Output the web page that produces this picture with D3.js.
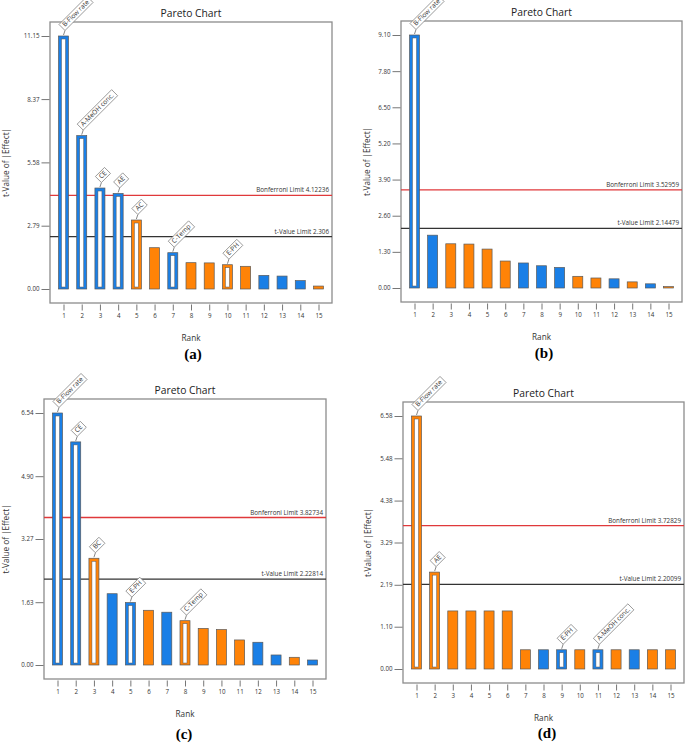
<!DOCTYPE html>
<html><head><meta charset="utf-8">
<script src="https://cdn.jsdelivr.net/npm/d3@7"></script>
<style>body{margin:0;background:#fff} svg{display:block}</style>
</head><body><svg id="c" width="685" height="743"></svg>
<script>
// ---------- data ----------
const ranks = d3.range(1, 16);

const valuesA = [11.15, 6.76, 4.45, 4.21, 3.04, 1.82, 1.60, 1.16, 1.15, 1.07, 1.00, 0.60, 0.57, 0.37, 0.13];
const signsA  = ["+","+","+","+","-","-","+","-","-","-","-","+","+","+","-"];
const labelsA = ["B-Flow rate","A-MeOH conc.","CE","AE","AC","","C-Temp","","","E-PH","","","","",""];
const ticksA  = ["0.00","2.79","5.58","8.37","11.15"];
const bonfA = 4.12236, tlimA = 2.306;

const valuesB = [9.10, 1.90, 1.59, 1.58, 1.40, 0.97, 0.90, 0.80, 0.74, 0.42, 0.36, 0.33, 0.22, 0.15, 0.05];
const signsB  = ["+","+","-","-","-","-","+","+","+","-","-","+","-","+","-"];
const labelsB = ["B-Flow rate","","","","","","","","","","","","","",""];
const ticksB  = ["0.00","1.30","2.60","3.90","5.20","6.50","7.80","9.10"];
const bonfB = 3.52959, tlimB = 2.14479;

const valuesC = [6.54, 5.79, 2.77, 1.85, 1.62, 1.42, 1.37, 1.15, 0.95, 0.92, 0.65, 0.59, 0.26, 0.20, 0.13];
const signsC  = ["+","+","-","+","+","-","+","-","-","-","-","+","+","-","+"];
const labelsC = ["B-Flow rate","CE","BC","","E-PH","","","C-Temp","","","","","","",""];
const ticksC  = ["0.00","1.63","3.27","4.90","6.54"];
const bonfC = 3.82734, tlimC = 2.22814;

const valuesD = [6.58, 2.52, 1.51, 1.51, 1.51, 1.51, 0.50, 0.50, 0.50, 0.50, 0.50, 0.50, 0.50, 0.50, 0.50];
const signsD  = ["-","-","-","-","-","-","-","+","+","-","+","-","+","-","-"];
const labelsD = ["B-Flow rate","AE","","","","","","","E-PH","","A-MeOH conc.","","","",""];
const ticksD  = ["0.00","1.10","2.19","3.29","4.38","5.48","6.58"];
const bonfD = 3.72829, tlimD = 2.20099;

const captions = ["(a)","(b)","(c)","(d)"];

// ---------- layout ----------
const BLUE = "#1a7fe6", ORANGE = "#ff8307";
const FONT = "'Open Sans', 'Noto Sans', sans-serif";
const panels = [
  {cap: captions[0], values: valuesA, signs: signsA, labels: labelsA, ticks: ticksA, bonf: bonfA, tlim: tlimA,
   fx: 50, fy: 22, fw: 282, fh: 281, ylabX: 6, capXY: [193, 354]},
  {cap: captions[1], values: valuesB, signs: signsB, labels: labelsB, ticks: ticksB, bonf: bonfB, tlim: tlimB,
   fx: 401, fy: 21, fw: 281, fh: 281, ylabX: 367, capXY: [544, 353]},
  {cap: captions[2], values: valuesC, signs: signsC, labels: labelsC, ticks: ticksC, bonf: bonfC, tlim: tlimC,
   fx: 44, fy: 399, fw: 282, fh: 280, ylabX: 6, capXY: [184, 734]},
  {cap: captions[3], values: valuesD, signs: signsD, labels: labelsD, ticks: ticksD, bonf: bonfD, tlim: tlimD,
   fx: 403, fy: 402, fw: 281, fh: 281, ylabX: 368, capXY: [547, 733]}
];

const svg = d3.select("#c");

panels.forEach(p => {
  const g = svg.append("g");
  const x = d3.scalePoint().domain(ranks).range([p.fx + 13.5, p.fx + p.fw - 13.5]);
  const tickVals = p.ticks.map(Number);
  const y = d3.scaleLinear().domain([0, d3.max(tickVals)]).range([p.fy + p.fh - 14, p.fy + 14]);

  // title
  g.append("text").attr("x", p.fx + p.fw / 2).attr("y", p.fy - 5.5)
    .attr("text-anchor", "middle").attr("font-family", FONT).attr("font-size", 10.3)
    .attr("fill", "#222").text("Pareto Chart");

  // frame
  g.append("rect").attr("x", p.fx).attr("y", p.fy).attr("width", p.fw).attr("height", p.fh)
    .attr("fill", "none").attr("stroke", "#8c8c8c").attr("stroke-width", 1.3);

  // y axis (ticks left of frame)
  const yAxis = d3.axisLeft(y).tickValues(tickVals).tickSize(8).tickPadding(2)
    .tickFormat((d, i) => p.ticks[i]);
  const ya = g.append("g").attr("transform", `translate(${p.fx - 0.5},0)`).call(yAxis);
  ya.select(".domain").remove();
  ya.selectAll("line").attr("stroke", "#666").attr("stroke-width", 0.9);
  ya.selectAll("text").attr("font-family", FONT).attr("font-size", 6.2).attr("fill", "#333");

  // x axis (ticks below frame)
  const xAxis = d3.axisBottom(x).tickSize(6).tickPadding(3);
  const xa = g.append("g").attr("transform", `translate(0,${p.fy + p.fh + 1.5})`).call(xAxis);
  xa.select(".domain").remove();
  xa.selectAll("line").attr("stroke", "#666").attr("stroke-width", 0.9);
  xa.selectAll("text").attr("font-family", FONT).attr("font-size", 6.2).attr("fill", "#333");

  // axis titles
  g.append("text").attr("x", p.fx + p.fw / 2).attr("y", p.fy + p.fh + 37.5)
    .attr("text-anchor", "middle").attr("font-family", FONT).attr("font-size", 8.2)
    .attr("fill", "#333").text("Rank");
  g.append("text").attr("transform", `translate(${p.ylabX + 3},${p.fy + p.fh / 2}) rotate(-90)`)
    .attr("text-anchor", "middle").attr("font-family", FONT).attr("font-size", 8.2)
    .attr("fill", "#333").text("t-Value of |Effect|");

  // limit lines
  [[p.bonf, "#e0393b", "Bonferroni Limit " + p.bonf], [p.tlim, "#333", "t-Value Limit " + p.tlim]].forEach(([v, c, t]) => {
    g.append("line").attr("x1", p.fx).attr("x2", p.fx + p.fw).attr("y1", y(v)).attr("y2", y(v))
      .attr("stroke", c).attr("stroke-width", 1.3);
    g.append("text").attr("x", p.fx + p.fw - 3).attr("y", y(v) - 3)
      .attr("text-anchor", "end").attr("font-family", FONT).attr("font-size", 6.3)
      .attr("fill", "#333").text(t);
  });

  // bars
  const data = ranks.map((r, i) => ({r, v: p.values[i], s: p.signs[i], lab: p.labels[i]}));
  const bw = 10;
  data.forEach(d => {
    const col = d.s === "+" ? BLUE : ORANGE;
    const top = y(d.v), h = y(0) - y(d.v);
    g.append("rect").attr("x", x(d.r) - bw / 2).attr("y", top).attr("width", bw).attr("height", h)
      .attr("fill", col).attr("stroke", "#5a5a5a").attr("stroke-width", 0.7);
    if (d.lab) {
      g.append("rect").attr("x", x(d.r) - 2).attr("y", top + 3).attr("width", 4)
        .attr("height", Math.max(0, h - 5)).attr("fill", "#fff").attr("stroke", "#5a5a5a").attr("stroke-width", 0.5);
      // callout
      const lx = x(d.r) + 1.5, ly = top - 5.5;
      g.append("line").attr("x1", x(d.r)).attr("y1", top - 1).attr("x2", lx).attr("y2", ly)
        .attr("stroke", "#555").attr("stroke-width", 0.7);
      const cg = g.append("g").attr("transform", `translate(${lx},${ly}) rotate(-45)`);
      const rect = cg.append("rect").attr("fill", "#fff").attr("stroke", "#777").attr("stroke-width", 0.7);
      const txt = cg.append("text").attr("x", 2.5).attr("y", -2.4).attr("font-family", FONT)
        .attr("font-size", 6.6).attr("fill", "#333").text(d.lab);
      const tw = txt.node().getComputedTextLength();
      rect.attr("x", 0).attr("y", -8.5).attr("width", tw + 5).attr("height", 8.5);
    }
  });

  // caption
  svg.append("text").attr("x", p.capXY[0]).attr("y", p.capXY[1] + 5)
    .attr("text-anchor", "middle").attr("font-family", "'Liberation Serif', 'Times New Roman', serif")
    .attr("font-weight", "bold").attr("font-size", 15).attr("fill", "#000").text(p.cap);
});
</script>
</body></html>
